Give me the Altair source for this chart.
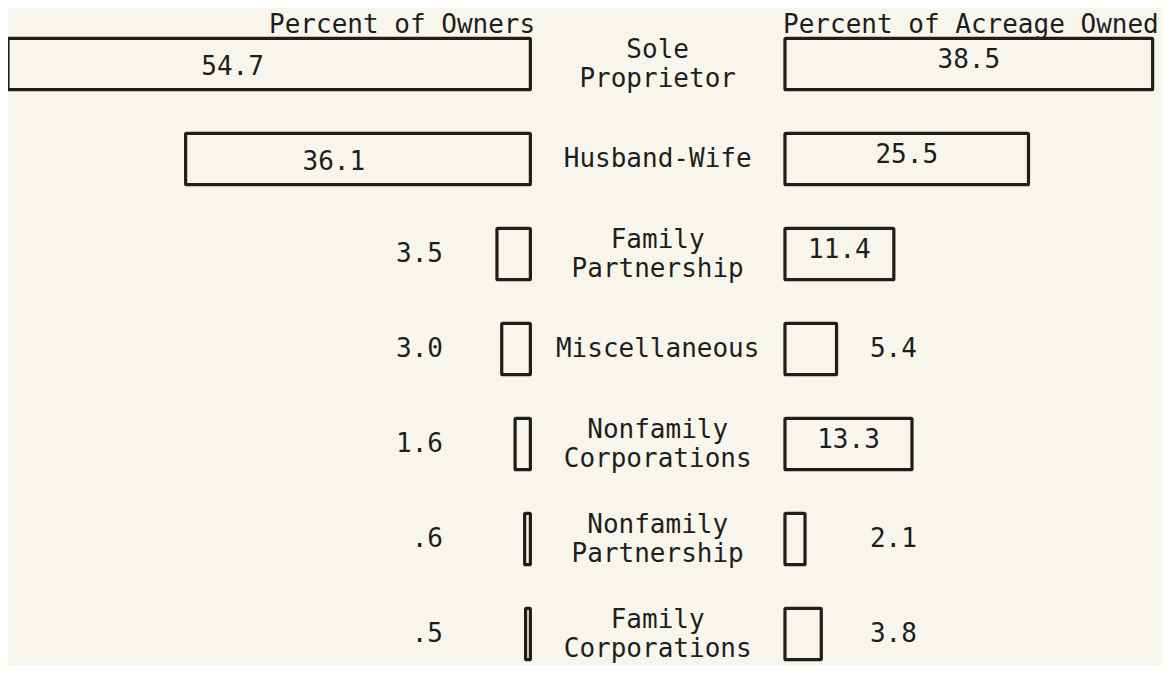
import altair as alt
import pandas as pd

# ---- data ----
categories = ["Sole\nProprietor", "Husband-Wife", "Family\nPartnership", "Miscellaneous",
              "Nonfamily\nCorporations", "Nonfamily\nPartnership", "Family\nCorporations"]
owners = [54.7, 36.1, 3.5, 3.0, 1.6, 0.6, 0.5]
acreage = [38.5, 25.5, 11.4, 5.4, 13.3, 2.1, 3.8]
owners_text = ["54.7", "36.1", "3.5", "3.0", "1.6", ".6", ".5"]
acreage_text = ["38.5", "25.5", "11.4", "5.4", "13.3", "2.1", "3.8"]
headers = ["Percent of Owners", "Percent of Acreage Owned"]

# ---- layout constants (in percent units / row units) ----
GAP = 26.66          # distance between the left and right bar baselines
HALF = 0.27          # half bar height in row units
INSIDE = 10          # values at or above this are labelled inside the bar
LH = 29              # line height of the two-line category labels
BG = "#f8f6ec"
INK = "#1e1e1e"
FONT = "DejaVu Sans Mono"
FS = 26

df = pd.DataFrame({
    "row": list(range(len(categories))),
    "cat": categories,
    "owners": owners,
    "acreage": acreage,
    "otext": owners_text,
    "atext": acreage_text,
})
df["y0"] = df["row"] - HALF
df["y1"] = df["row"] + HALF
df["lx"] = -df["owners"]
df["lx2"] = 0.0
df["rx"] = GAP
df["rx2"] = GAP + df["acreage"]
df["cx"] = GAP / 2
df["lin"] = -0.57 * df["owners"]
df["lout"] = -9.15
df["rin"] = GAP + df["acreage"] / 2
df["rout"] = GAP + 8.9

hdr = pd.DataFrame({
    "text": headers,
    "x": [0.5, GAP - 0.2],
    "y": [-0.326, -0.326],
    "side": ["left", "right"],
})

xs = alt.Scale(domain=[-54.7, 66.14], nice=False, zero=False)
ys = alt.Scale(domain=[-0.5895, 6.326], nice=False, zero=False, reverse=True)

base = alt.Chart(df)

def X(f):
    return alt.X(f, scale=xs, axis=None)

def Y(f):
    return alt.Y(f, scale=ys, axis=None)

left_bars = base.mark_rect(fill=BG, stroke=INK, strokeWidth=3.2, cornerRadius=1).encode(
    x=X("lx:Q"), x2="lx2:Q", y=Y("y0:Q"), y2="y1:Q")

right_bars = base.mark_rect(fill=BG, stroke=INK, strokeWidth=3.2, cornerRadius=1).encode(
    x=X("rx:Q"), x2="rx2:Q", y=Y("y0:Q"), y2="y1:Q")

txt = dict(font=FONT, fontSize=FS, color=INK, baseline="middle")

cat_two = base.transform_filter("indexof(datum.cat, '\\n') >= 0").mark_text(
    align="center", lineBreak="\n", lineHeight=LH, dy=-LH / 2, **txt).encode(
    x=X("cx:Q"), y=Y("row:Q"), text="cat:N")

cat_one = base.transform_filter("indexof(datum.cat, '\\n') < 0").mark_text(
    align="center", **txt).encode(
    x=X("cx:Q"), y=Y("row:Q"), text="cat:N")

left_in = base.transform_filter(alt.datum.owners >= INSIDE).mark_text(
    align="center", dy=3, **txt).encode(
    x=X("lin:Q"), y=Y("row:Q"), text="otext:N")

left_out = base.transform_filter(alt.datum.owners < INSIDE).mark_text(
    align="right", **txt).encode(
    x=X("lout:Q"), y=Y("row:Q"), text="otext:N")

right_in = base.transform_filter(alt.datum.acreage >= INSIDE).mark_text(
    align="center", dy=-4, **txt).encode(
    x=X("rin:Q"), y=Y("row:Q"), text="atext:N")

right_out = base.transform_filter(alt.datum.acreage < INSIDE).mark_text(
    align="left", **txt).encode(
    x=X("rout:Q"), y=Y("row:Q"), text="atext:N")

hdr_left = alt.Chart(hdr).transform_filter(alt.datum.side == "left").mark_text(
    align="right", font=FONT, fontSize=FS, color=INK, baseline="alphabetic").encode(
    x=X("x:Q"), y=Y("y:Q"), text="text:N")

hdr_right = alt.Chart(hdr).transform_filter(alt.datum.side == "right").mark_text(
    align="left", font=FONT, fontSize=FS, color=INK, baseline="alphabetic").encode(
    x=X("x:Q"), y=Y("y:Q"), text="text:N")

chart = alt.layer(
    left_bars, right_bars, cat_two, cat_one, left_in, left_out, right_in, right_out,
    hdr_left, hdr_right
).properties(
    width=1154, height=657, padding=0,
    autosize=alt.AutoSizeParams(type="none"),
    background=BG,
).configure_view(stroke=None)

chart.save("out.html", embed_options={"renderer": "svg", "actions": False})
